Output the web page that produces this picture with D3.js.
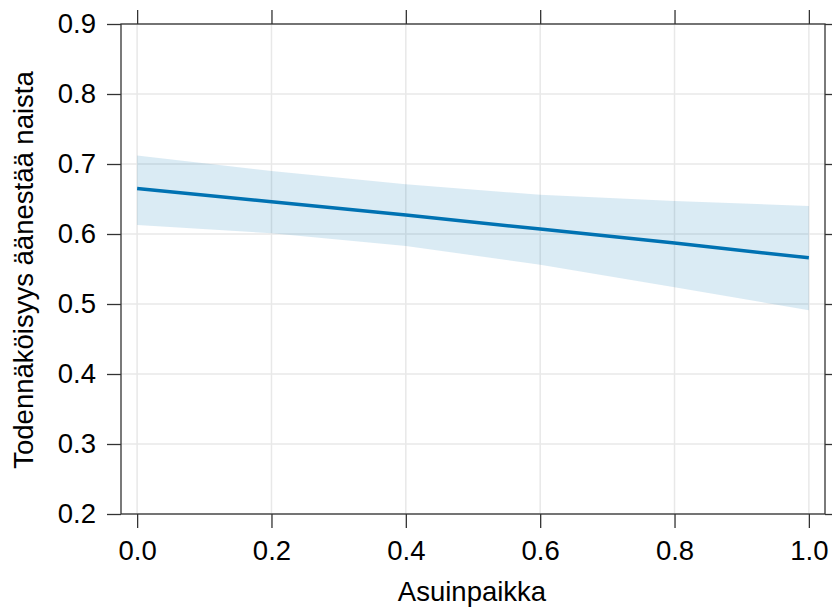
<!DOCTYPE html>
<html>
<head>
<meta charset="utf-8">
<script src="https://cdn.jsdelivr.net/npm/d3@7/dist/d3.min.js"></script>
<style>
  html, body { margin: 0; padding: 0; background: #fff; }
  text { font-family: "Liberation Sans", Arial, sans-serif; fill: #000; }
</style>
</head>
<body>
<svg id="chart" width="832" height="614"></svg>
<script>
// ---- data ----
const xValues = [0, 0.2, 0.4, 0.6, 0.8, 1.0];
const fitValues = [0.665, 0.646, 0.627, 0.607, 0.587, 0.566];
const upperValues = [0.712, 0.690, 0.671, 0.656, 0.647, 0.640];
const lowerValues = [0.613, 0.601, 0.583, 0.556, 0.524, 0.491];
const xTicks = [0, 0.2, 0.4, 0.6, 0.8, 1.0];
const yTicks = [0.2, 0.3, 0.4, 0.5, 0.6, 0.7, 0.8, 0.9];
const xTitle = "Asuinpaikka";
const yTitle = "Todennäköisyys äänestää naista";

// ---- layout ----
const svg = d3.select("#chart");
const L = 121, R = 825, T = 24, B = 514;
const x = d3.scaleLinear().domain([-0.024, 1.024]).range([L, R]);
const y = d3.scaleLinear().domain([0.2, 0.9]).range([B, T]);

const rows = xValues.map((v, i) => ({ x: v, fit: fitValues[i], lo: lowerValues[i], hi: upperValues[i] }));

// grid
const grid = svg.append("g");
grid.selectAll("line.gx").data(xTicks).join("line")
  .attr("x1", d => x(d)).attr("x2", d => x(d)).attr("y1", T).attr("y2", B)
  .attr("stroke", "#e8e8e8").attr("stroke-width", 1.5);
grid.selectAll("line.gy").data(yTicks).join("line")
  .attr("y1", d => y(d)).attr("y2", d => y(d)).attr("x1", L).attr("x2", R)
  .attr("stroke", "#e8e8e8").attr("stroke-width", 1.5);

// band
svg.append("path").datum(rows)
  .attr("d", d3.area().x(d => x(d.x)).y0(d => y(d.lo)).y1(d => y(d.hi)))
  .attr("fill", "#0072B2").attr("fill-opacity", 0.145);

// line
svg.append("path").datum(rows)
  .attr("d", d3.line().x(d => x(d.x)).y(d => y(d.fit)))
  .attr("fill", "none").attr("stroke", "#0072B2").attr("stroke-width", 3.5);

// axes
const fmt = d3.format(".1f");
const axB = svg.append("g").attr("transform", `translate(0,${B})`)
  .call(d3.axisBottom(x).tickValues(xTicks).tickSize(14).tickPadding(12).tickFormat(fmt));
const axT = svg.append("g").attr("transform", `translate(0,${T})`)
  .call(d3.axisTop(x).tickValues(xTicks).tickSize(14).tickFormat(""));
const axL = svg.append("g").attr("transform", `translate(${L},0)`)
  .call(d3.axisLeft(y).tickValues(yTicks).tickSize(14).tickPadding(11).tickFormat(fmt));
const axR = svg.append("g").attr("transform", `translate(${R},0)`)
  .call(d3.axisRight(y).tickValues(yTicks).tickSize(14).tickFormat(""));
[axB, axT, axL, axR].forEach(g => {
  g.select(".domain").remove();
  g.selectAll(".tick line").attr("stroke", "#333").attr("stroke-width", 1.3);
  g.selectAll("text").attr("font-size", 27.5).attr("font-family", '"Liberation Sans", Arial, sans-serif').attr("fill", "#000");
});

// panel border
svg.append("rect").attr("x", L).attr("y", T).attr("width", R - L).attr("height", B - T)
  .attr("fill", "none").attr("stroke", "#333").attr("stroke-width", 1.3);

// titles
svg.append("text").attr("x", 472).attr("y", 601)
  .attr("text-anchor", "middle").attr("font-size", 27.5).text(xTitle);
svg.append("text").attr("transform", `translate(33,270) rotate(-90)`)
  .attr("text-anchor", "middle").attr("font-size", 27.5).text(yTitle);
</script>
</body>
</html>
